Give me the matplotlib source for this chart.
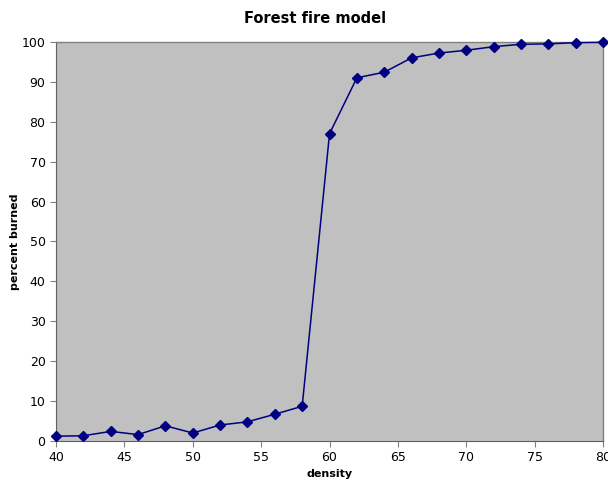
import matplotlib
matplotlib.use("Agg")
import matplotlib.pyplot as plt

density = [40, 42, 44, 46, 48, 50, 52, 54, 56, 58, 60, 62, 64, 66, 68, 70, 72, 74, 76, 78, 80]
burned = [1.2, 1.3, 2.4, 1.6, 3.8, 2.0, 4.0, 4.8, 6.7, 8.7, 77.0, 91.0, 92.4, 96.0, 97.2, 97.9, 98.8, 99.4, 99.5, 99.8, 99.9]
xticks = [40, 45, 50, 55, 60, 65, 70, 75, 80]
yticks = [0, 10, 20, 30, 40, 50, 60, 70, 80, 90, 100]

fig = plt.figure(figsize=(6.08, 4.87), dpi=100)
ax = fig.add_axes([0.092, 0.0945, 0.9, 0.8195])
ax.set_facecolor('#c0c0c0')
ax.plot(density, burned, marker='D', markersize=5, color='#000080', linewidth=1.1, clip_on=False, zorder=3)
ax.set_xlim(40, 80)
ax.set_ylim(0, 100)
ax.set_xticks(xticks)
ax.set_yticks(yticks)
ax.tick_params(labelsize=9, length=4, color='#808080')
for side in ['top', 'right']:
    ax.spines[side].set_color('#808080')
    ax.spines[side].set_linewidth(1.0)
for side in ['left', 'bottom']:
    ax.spines[side].set_color('#606060')
ax.set_xlabel("density", fontsize=8, fontweight='bold', labelpad=3)
ax.set_ylabel("percent burned", fontsize=8, fontweight='bold', labelpad=1)
fig.text(0.518, 0.963, "Forest fire model", ha='center', va='center', fontsize=10.5, fontweight='bold')
fig.savefig("out.png", dpi=100)
